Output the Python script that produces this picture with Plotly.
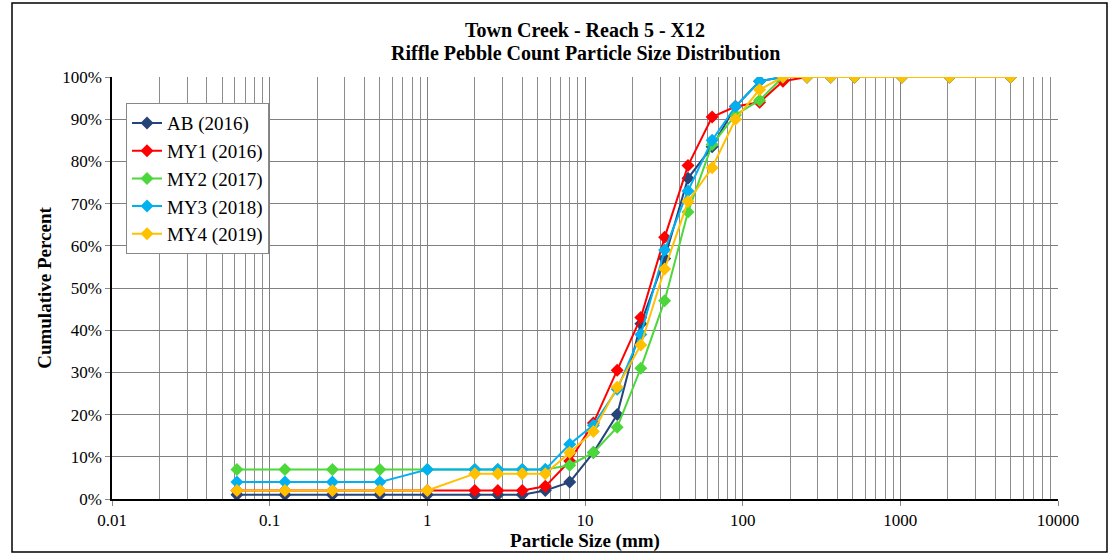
import plotly.graph_objects as go

# Sieve sizes (mm) and cumulative percent finer for each survey
sizes = [0.062, 0.125, 0.25, 0.5, 1, 2, 2.8, 4, 5.6, 8, 11.3, 16, 22.6, 32,
         45, 64, 90, 128, 180, 256, 362, 512, 1024, 2048, 5000]

ab_2016 = [1, 1, 1, 1, 1, 1, 1, 1, 2, 4, 11, 20, 41.5, 57, 76, 83.5, 93, 99,
           100, 100, 100, 100, 100, 100, 100]
my1_2016 = [2, 2, 2, 2, 2, 2, 2, 2, 3, 9, 18, 30.5, 43, 62, 79, 90.5, 93, 94,
            99, 100, 100, 100, 100, 100, 100]
my2_2017 = [7, 7, 7, 7, 7, 7, 7, 7, 7, 8, 11, 17, 31, 47, 68, 84, 91, 94.5,
            100, 100, 100, 100, 100, 100, 100]
my3_2018 = [4, 4, 4, 4, 7, 7, 7, 7, 7, 13, 17.5, 26, 39, 59, 73, 85, 93, 99,
            100, 100, 100, 100, 100, 100, 100]
my4_2019 = [2, 2, 2, 2, 2, 6, 6, 6, 6, 11, 16, 26.5, 36.5, 54.5, 70.5, 78.5, 90, 97,
            100, 100, 100, 100, 100, 100, 100]

series = [
    ("AB (2016)", ab_2016, "#264478"),
    ("MY1 (2016)", my1_2016, "#FF0000"),
    ("MY2 (2017)", my2_2017, "#4CD83A"),
    ("MY3 (2018)", my3_2018, "#00B0F0"),
    ("MY4 (2019)", my4_2019, "#FFC000"),
]

title_lines = ["Town Creek - Reach 5 - X12",
               "Riffle Pebble Count Particle Size Distribution"]

decades = [0.01, 0.1, 1, 10, 100, 1000, 10000]
decade_labels = ["0.01", "0.1", "1", "10", "100", "1000", "10000"]
minor_vals = [m * d for d in decades[:-1] for m in range(2, 10)]

SERIF = "Liberation Serif, Times New Roman, serif"

fig = go.Figure()
for name, vals, color in series:
    fig.add_trace(go.Scatter(
        x=sizes, y=vals, name=name,
        mode="lines+markers",
        line=dict(color=color, width=2),
        marker=dict(symbol="diamond", size=10, color=color),
    ))

# two title lines placed separately to get the tight Excel line spacing
for txt, ypos in zip(title_lines, [1.112, 1.057]):
    fig.add_annotation(text=f"<b>{txt}</b>", xref="paper", yref="paper",
                       x=0.5, y=ypos, xanchor="center", yanchor="middle",
                       showarrow=False,
                       font=dict(family=SERIF, size=20, color="black"))

fig.update_layout(
    width=1115, height=554,
    margin=dict(l=112, r=57, t=77, b=55),
    paper_bgcolor="white", plot_bgcolor="white",
    font=dict(family=SERIF, size=17, color="black"),
    legend=dict(
        x=0.0148, y=0.938, xanchor="left", yanchor="top",
        bgcolor="white", bordercolor="#888888", borderwidth=1,
        font=dict(family=SERIF, size=19),
        tracegroupgap=0,
    ),
    shapes=[dict(type="rect", xref="paper", yref="paper",
                 x0=-0.1057, x1=1.0518, y0=-0.1256, y1=1.1754,
                 line=dict(color="black", width=1.5), layer="below")],
)

fig.update_xaxes(
    type="log", range=[-2, 4], automargin=False,
    tickvals=decades, ticktext=decade_labels,
    ticks="outside", ticklen=5, tickcolor="#888888",
    showgrid=True, gridcolor="#808080", gridwidth=1,
    minor=dict(tickvals=minor_vals, showgrid=True, gridcolor="#8c8c8c",
               gridwidth=1, ticks=""),
    showline=True, linecolor="black", linewidth=1.5,
    zeroline=False,
    title=dict(text="<b>Particle Size (mm)</b>", standoff=2,
               font=dict(family=SERIF, size=19)),
)
fig.update_yaxes(
    range=[0, 100], dtick=10, ticksuffix="%", automargin=False,
    ticks="outside", ticklen=5, tickcolor="#888888",
    showgrid=True, gridcolor="#808080", gridwidth=1,
    showline=True, linecolor="black", linewidth=1.5,
    zeroline=False,
    title=dict(text="<b>Cumulative Percent</b>", standoff=6,
               font=dict(family=SERIF, size=19)),
)

fig.write_html("out.html", config={"displayModeBar": False},
               post_script="document.body.style.margin='0';")
